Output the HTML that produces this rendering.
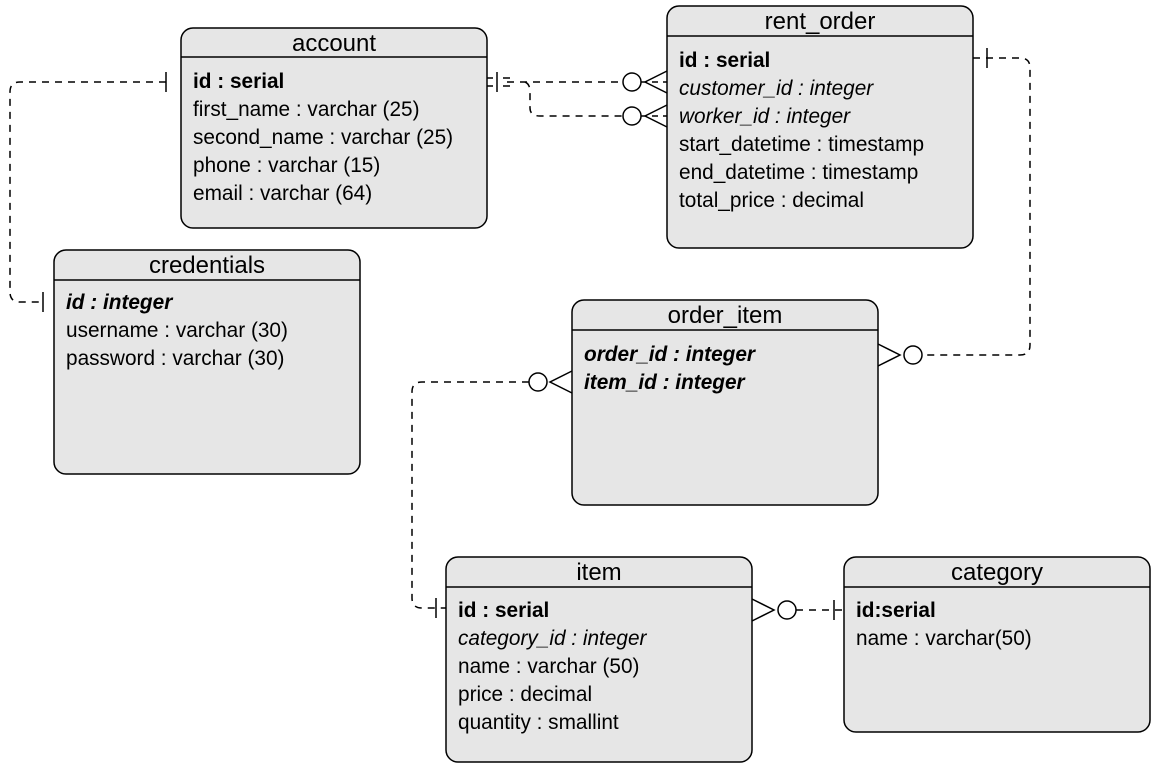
<!DOCTYPE html>
<html><head><meta charset="utf-8"><style>
body{margin:0;background:#fff;}
svg{display:block;font-family:"Liberation Sans",Arial,sans-serif;}
.t{font-size:24px;text-anchor:middle;fill:#000}
.r{font-size:20.8px;fill:#000}
.b{font-weight:bold}.i{font-style:italic}
.box{fill:#e6e6e6;stroke:#000;stroke-width:1.5}
.d{fill:none;stroke:#000;stroke-width:1.5;stroke-dasharray:7 6}
.s{fill:none;stroke:#000;stroke-width:1.5}
.c{fill:#fff;stroke:#000;stroke-width:1.5}
</style></head><body>
<svg width="1151" height="778" viewBox="0 0 1151 778">
<path class="d" d="M166 82 H20 Q10 82 10 92 V292 Q10 302 20 302 H40"/>
<line class="s" x1="166" y1="72" x2="166" y2="92"/>
<line class="s" x1="43" y1="292" x2="43" y2="312"/>
<path class="d" d="M507 82 H623"/>
<path class="d" d="M525 82 Q530 84 530 92 V108 Q530 116 540 116 H623"/>
<line class="s" x1="497" y1="72" x2="497" y2="92"/>
<line class="s" x1="487" y1="78" x2="493" y2="78"/><line class="s" x1="487" y1="86" x2="493" y2="86"/>
<line class="s" x1="503" y1="78" x2="510" y2="78"/><line class="s" x1="503" y1="86" x2="510" y2="86"/>
<line class="s" x1="641" y1="82" x2="667" y2="82" stroke-dasharray="6 5"/>
<line class="s" x1="641" y1="116" x2="667" y2="116" stroke-dasharray="6 5"/>
<path class="s" d="M667 71 L645 82 L667 93 M667 105 L645 116 L667 127"/>
<circle class="c" cx="632" cy="82" r="9"/><circle class="c" cx="632" cy="116" r="9"/>
<path class="d" d="M973 58 H1020 Q1030 58 1030 68 V345 Q1030 355 1020 355 H922"/>
<line class="s" x1="987" y1="48" x2="987" y2="68"/>
<path class="s" d="M878 344 L900 355 L878 366"/>
<circle class="c" cx="913" cy="355" r="9"/>
<path class="d" d="M529 382 H422 Q412 382 412 392 V598 Q412 608 422 608 H446"/>
<line class="s" x1="436" y1="598" x2="436" y2="618"/>
<path class="s" d="M572 371 L550 382 L572 393"/>
<circle class="c" cx="538" cy="382" r="9"/>
<path class="d" d="M796 610 H844"/>
<line class="s" x1="834" y1="600" x2="834" y2="620"/>
<path class="s" d="M752 599 L774 610 L752 621"/>
<circle class="c" cx="787" cy="610" r="9"/>

<rect class="box" x="181" y="28" width="306" height="200" rx="12"/>
<line class="s" x1="181" y1="57" x2="487" y2="57"/>
<text class="t" x="334" y="51">account</text>
<text class="r b" x="193" y="88">id : serial</text>
<text class="r" x="193" y="116">first_name : varchar (25)</text>
<text class="r" x="193" y="144">second_name : varchar (25)</text>
<text class="r" x="193" y="172">phone : varchar (15)</text>
<text class="r" x="193" y="200">email : varchar (64)</text>

<rect class="box" x="667" y="6" width="306" height="242" rx="12"/>
<line class="s" x1="667" y1="36" x2="973" y2="36"/>
<text class="t" x="820" y="29">rent_order</text>
<text class="r b" x="679" y="67">id : serial</text>
<text class="r i" x="679" y="95">customer_id : integer</text>
<text class="r i" x="679" y="123">worker_id : integer</text>
<text class="r" x="679" y="151">start_datetime : timestamp</text>
<text class="r" x="679" y="179">end_datetime : timestamp</text>
<text class="r" x="679" y="207">total_price : decimal</text>

<rect class="box" x="54" y="250" width="306" height="224" rx="12"/>
<line class="s" x1="54" y1="280" x2="360" y2="280"/>
<text class="t" x="207" y="273">credentials</text>
<text class="r b i" x="66" y="309">id : integer</text>
<text class="r" x="66" y="337">username : varchar (30)</text>
<text class="r" x="66" y="365">password : varchar (30)</text>

<rect class="box" x="572" y="300" width="306" height="205" rx="12"/>
<line class="s" x1="572" y1="330" x2="878" y2="330"/>
<text class="t" x="725" y="323">order_item</text>
<text class="r b i" x="584" y="361">order_id : integer</text>
<text class="r b i" x="584" y="389">item_id : integer</text>

<rect class="box" x="446" y="557" width="306" height="205" rx="12"/>
<line class="s" x1="446" y1="587" x2="752" y2="587"/>
<text class="t" x="599" y="580">item</text>
<text class="r b" x="458" y="617">id : serial</text>
<text class="r i" x="458" y="645">category_id : integer</text>
<text class="r" x="458" y="673">name : varchar (50)</text>
<text class="r" x="458" y="701">price : decimal</text>
<text class="r" x="458" y="729">quantity : smallint</text>

<rect class="box" x="844" y="557" width="306" height="175" rx="12"/>
<line class="s" x1="844" y1="587" x2="1150" y2="587"/>
<text class="t" x="997" y="580">category</text>
<text class="r b" x="856" y="617">id:serial</text>
<text class="r" x="856" y="645">name : varchar(50)</text>
</svg>
</body></html>
